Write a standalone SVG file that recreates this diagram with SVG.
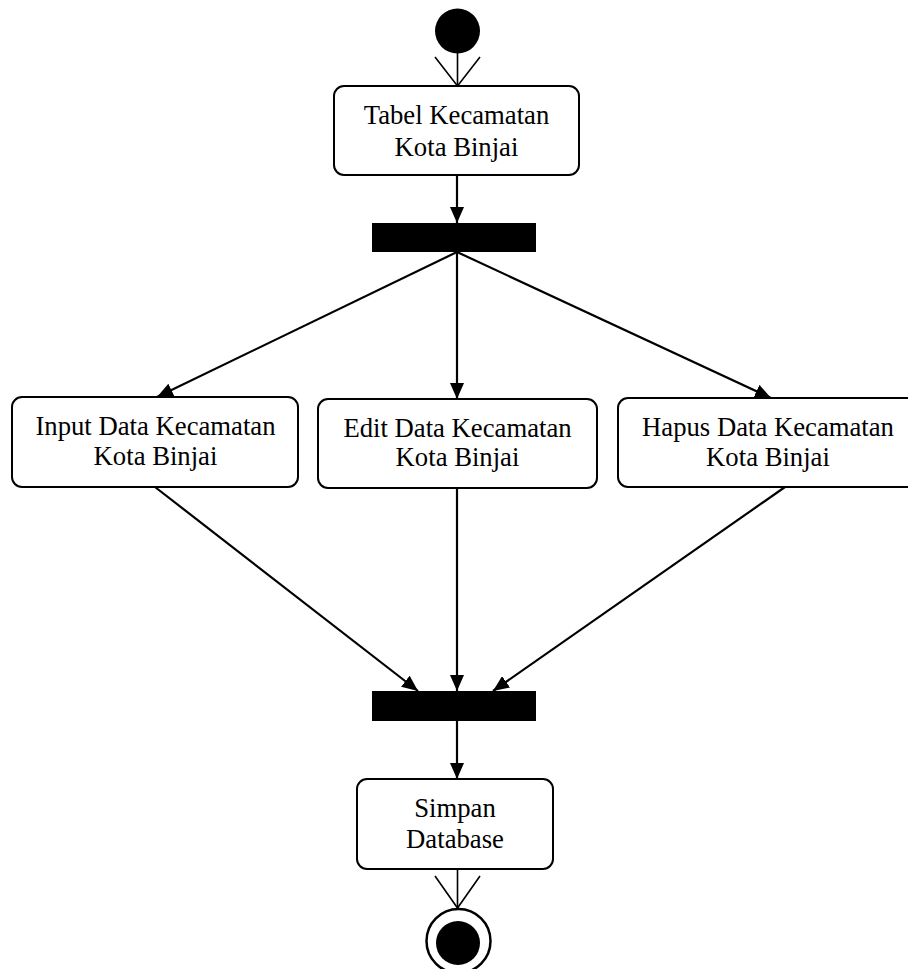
<svg xmlns="http://www.w3.org/2000/svg" width="908" height="969" viewBox="0 0 908 969">
<style>
.box{fill:#fff;stroke:#000;stroke-width:2}
.bar{fill:#000}
.t{font-family:"Liberation Serif","Times New Roman",serif;font-size:26.7px;fill:#000;text-anchor:middle}
.c{stroke:#000;stroke-width:2.2;fill:none}
.o{stroke:#000;stroke-width:1.6;fill:none}
</style>
<defs>
<marker id="ah" viewBox="0 0 16 14" refX="16" refY="7" markerWidth="16" markerHeight="14" markerUnits="userSpaceOnUse" orient="auto">
<path d="M0,0 L16,7 L0,14 Z" fill="#000"/>
</marker>
</defs>
<rect width="908" height="969" fill="#fff"/>
<g id="start"><circle cx="457.5" cy="31" r="22.5" fill="#000"/></g>
<g id="tabel">
<rect class="box" x="334" y="86" width="245" height="89" rx="10"/>
<text class="t" x="456.5" y="124">Tabel Kecamatan</text>
<text class="t" x="456.5" y="156">Kota Binjai</text>
</g>
<g id="fork"><rect class="bar" x="372" y="223" width="164" height="29"/></g>
<g id="input">
<rect class="box" x="12" y="397" width="286" height="90" rx="10"/>
<text class="t" x="155.5" y="435">Input Data Kecamatan</text>
<text class="t" x="155.5" y="465">Kota Binjai</text>
</g>
<g id="edit">
<rect class="box" x="318" y="399" width="279" height="89" rx="10"/>
<text class="t" x="457.5" y="437">Edit Data Kecamatan</text>
<text class="t" x="457.5" y="466">Kota Binjai</text>
</g>
<g id="hapus">
<rect class="box" x="618" y="398" width="310" height="89" rx="10"/>
<text class="t" x="768" y="436">Hapus Data Kecamatan</text>
<text class="t" x="768" y="466">Kota Binjai</text>
</g>
<g id="join"><rect class="bar" x="372" y="691" width="164" height="30"/></g>
<g id="simpan">
<rect class="box" x="357" y="779" width="196" height="90" rx="10"/>
<text class="t" x="455" y="817">Simpan</text>
<text class="t" x="455" y="848">Database</text>
</g>
<g id="end">
<circle cx="458.5" cy="941" r="32" fill="#fff" stroke="#000" stroke-width="2.5"/>
<circle cx="458" cy="943" r="22" fill="#000"/>
</g>
<g id="connectors">
<line class="o" x1="457.5" y1="53" x2="457.5" y2="86"/>
<polyline class="o" points="435,57 457.5,86 480,57"/>
<line class="c" x1="457" y1="175" x2="457" y2="223" marker-end="url(#ah)"/>
<line class="c" x1="457" y1="252" x2="157" y2="397" marker-end="url(#ah)"/>
<line class="c" x1="457" y1="252" x2="457" y2="399" marker-end="url(#ah)"/>
<line class="c" x1="457" y1="252" x2="771" y2="398" marker-end="url(#ah)"/>
<line class="c" x1="155" y1="487" x2="418" y2="691" marker-end="url(#ah)"/>
<line class="c" x1="457" y1="488" x2="457" y2="691" marker-end="url(#ah)"/>
<line class="c" x1="785" y1="487" x2="493" y2="691" marker-end="url(#ah)"/>
<line class="c" x1="457" y1="721" x2="457" y2="779" marker-end="url(#ah)"/>
<line class="o" x1="457.5" y1="869" x2="457.5" y2="908"/>
<polyline class="o" points="435,876 457.5,908 480,876"/>
</g>
</svg>
